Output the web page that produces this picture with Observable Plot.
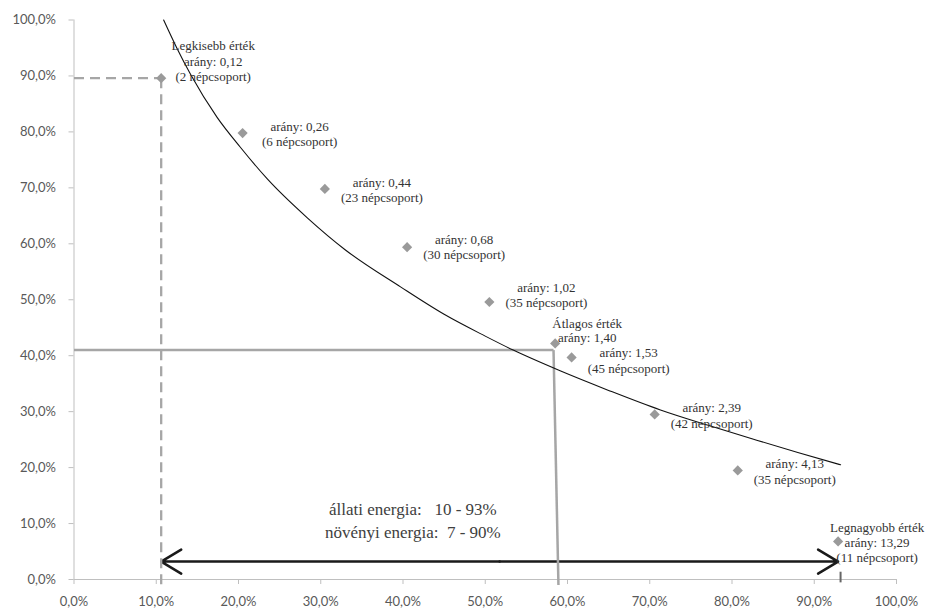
<!DOCTYPE html>
<html><head><meta charset="utf-8">
<script src="https://cdn.jsdelivr.net/npm/d3@7"></script>
<script src="https://cdn.jsdelivr.net/npm/@observablehq/plot@0.6"></script>
<style>body{margin:0;background:#fff}</style>
</head><body><div id="chart"></div>
<script>
// Data
const pointX = [10.6, 20.5, 30.5, 40.5, 50.5, 60.5, 70.6, 80.7, 92.9];
const pointY = [89.6, 79.8, 69.8, 59.4, 49.6, 39.7, 29.5, 19.5, 6.8];
const ratios = ["0,12", "0,26", "0,44", "0,68", "1,02", "1,53", "2,39", "4,13", "13,29"];
const groups = [2, 6, 23, 30, 35, 45, 42, 35, 11];

const avgX = [58.5];
const avgY = [42.2];
const avgRatio = ["1,40"];
const avgLineY = [41.0];
const avgLineX = [58.3, 58.9]; // top, bottom (slightly tilted in the source)

const curveX = [10.9, 12.5, 14.2, 17.4, 20.2, 23.5, 28.4, 33, 39.7, 45, 50, 53.4, 59.1, 65, 71.3, 77, 83, 88, 93.2];
const curveY = [100, 95.0, 90.2, 82.6, 77.3, 71.6, 64.6, 58.9, 52.3, 47.4, 43.5, 41.0, 37.3, 33.8, 30.3, 27.6, 24.9, 22.7, 20.5];

const rangeArrowY = [3.2];
const rangeEndTick = [93.2];

const xTicks = [0, 10, 20, 30, 40, 50, 60, 70, 80, 90, 100];
const yTicks = [0, 10, 20, 30, 40, 50, 60, 70, 80, 90, 100];

const textLines = ["állati energia:\u00a0\u00a0\u00a010 - 93%", "növényi energia:\u00a0\u00a07 - 90%"];
const textPos = [{x: 41.2, y: 10.85}];

// per-label vertical nudges (pixels) for the regular labels, as placed in the source
const labelNudge = [0, 0, -1, -8, 2, 0, 0];

const fmt = d => d.toFixed(1).replace(".", ",") + "%";
const points = pointX.map((x, i) => ({x, y: pointY[i], ratio: ratios[i], groups: groups[i]}));
const regular = points.slice(1, -1).map((d, i) => ({...d, nudge: labelNudge[i]}));
const minP = points[0];
const maxP = points[points.length - 1];
const avgP = {x: avgX[0], y: avgY[0], ratio: avgRatio[0]};
const curve = curveX.map((x, i) => ({x, y: curveY[i]}));
const mid = (minP.x + maxP.x) / 2;

const serif = "'Liberation Serif', 'Times New Roman', serif";
const labelFill = "#333";

const regLabelMarks = regular.map(d =>
  Plot.text([d], {x: "x", y: "y", text: d => `arány: ${d.ratio}\n(${d.groups} népcsoport)`, dx: 57, dy: 0.5 + d.nudge, lineHeight: 1.2, fontFamily: serif, fontSize: 13, fill: labelFill})
);

const chart = Plot.plot({
  width: 931, height: 612,
  marginLeft: 73.5, marginRight: 35, marginTop: 19.5, marginBottom: 33,
  x: {domain: [0, 100]},
  y: {domain: [0, 100]},
  style: {fontFamily: "Lato, 'Liberation Sans', sans-serif", fontSize: "13px", background: "#fff", overflow: "visible"},
  marks: [
    Plot.axisY({ticks: yTicks, tickFormat: fmt, tickSize: 5, tickPadding: 13, stroke: "#bfbfbf", fill: "#595959", label: null}),
    Plot.axisX({ticks: xTicks, tickFormat: fmt, tickSize: 5, tickPadding: 12, stroke: "#bfbfbf", fill: "#595959", label: null}),
    Plot.ruleX([0], {stroke: "#bfbfbf"}),
    Plot.ruleY([0], {stroke: "#bfbfbf"}),
    // range arrow
    Plot.arrow([minP.x, maxP.x], {x1: () => mid, x2: d => d, y1: rangeArrowY[0], y2: rangeArrowY[0], stroke: "#1a1a1a", strokeWidth: 2.5, headLength: 14, headAngle: 62}),
    Plot.ruleX(rangeEndTick, {y1: -0.6, y2: 1.3, stroke: "#666", strokeWidth: 2}),
    // minimum dashed guides
    Plot.link([minP], {x1: 0, x2: "x", y1: "y", y2: "y", stroke: "#a6a6a6", strokeWidth: 2.3, strokeDasharray: "10,6"}),
    Plot.link([minP], {x1: "x", x2: "x", y1: "y", y2: -1, stroke: "#a6a6a6", strokeWidth: 2.3, strokeDasharray: "10,6"}),
    // average guides
    Plot.link([0], {x1: 0, x2: avgLineX[0], y1: avgLineY[0], y2: avgLineY[0], stroke: "#a6a6a6", strokeWidth: 2.5}),
    Plot.link([0], {x1: avgLineX[0], x2: avgLineX[1], y1: avgLineY[0], y2: -1, stroke: "#a6a6a6", strokeWidth: 2.5}),
    // trend curve
    Plot.line(curve, {x: "x", y: "y", curve: "monotone-x", stroke: "#111", strokeWidth: 1.1}),
    // diamonds
    Plot.dot([...points, avgP], {x: "x", y: "y", symbol: "diamond2", r: 4.6, fill: "#9a9a9a", stroke: "none"}),
    // labels
    ...regLabelMarks,
    Plot.text([minP], {x: "x", y: "y", text: d => `Legkisebb érték\narány: ${d.ratio}\n(${d.groups} népcsoport)`, dx: 52, dy: -17.5, lineHeight: 1.2, fontFamily: serif, fontSize: 13, fill: labelFill}),
    Plot.text([avgP], {x: "x", y: "y", text: d => `Átlagos érték\narány: ${d.ratio}`, dx: 32, dy: -13, lineHeight: 1.1, fontFamily: serif, fontSize: 13, fill: labelFill}),
    Plot.text([maxP], {x: "x", y: "y", text: d => `Legnagyobb érték\narány: ${d.ratio}\n(${d.groups} népcsoport)`, dx: 39, dy: 0.5, lineHeight: 1.15, fontFamily: serif, fontSize: 13, fill: labelFill}),
    Plot.text(textPos, {x: "x", y: "y", text: () => textLines.join("\n"), lineHeight: 1.35, fontFamily: serif, fontSize: 17, fill: "#404040"})
  ]
});
document.getElementById("chart").appendChild(chart);
</script>
</body></html>
